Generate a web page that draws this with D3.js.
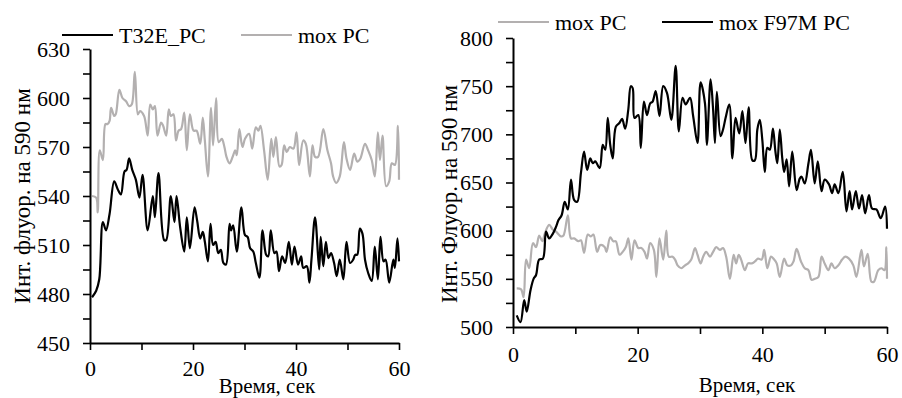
<!DOCTYPE html>
<html>
<head>
<meta charset="utf-8">
<script src="https://cdn.jsdelivr.net/npm/d3@7"></script>
<style>
  body { margin: 0; background: #fff; }
  svg { display: block; }
  svg text { font-family: "Liberation Serif", "Times New Roman", Times, "DejaVu Serif", serif; }
</style>
</head>
<body>
<svg id="chart" width="902" height="398"></svg>
<script>
// ---------- data ----------
// left panel: T32E_PC (black) and mox PC (grey)
let leftBlackTime = [0.4, 1.2, 1.8, 2.5, 3.1, 3.8, 4.7, 5.4, 6.0, 6.7,
  7.1, 7.6, 8.2, 8.9, 9.6, 10.2, 11.2, 12.2, 12.6, 13.3,
  14.4, 14.8, 15.7, 16.4, 16.8, 17.5, 18.3, 18.8, 19.4, 20.3,
  20.8, 21.4, 21.9, 22.3, 22.9, 23.4, 23.9, 24.4, 24.9, 25.4,
  25.9, 26.4, 27.1, 27.4, 27.8, 28.5, 29.4, 30.1, 30.6, 31.1,
  31.7, 32.2, 32.9, 33.5, 34.2, 34.6, 35.1, 35.8, 36.2, 36.7,
  37.3, 37.9, 38.6, 39.2, 39.7, 40.4, 41.0, 41.4, 42.1, 42.6,
  43.0, 43.7, 44.5, 44.8, 45.3, 45.8, 46.3, 46.8, 47.4, 47.9,
  48.5, 49.2, 49.8, 50.5, 51.1, 51.5, 51.9, 52.4, 52.9, 53.4,
  54.0, 54.7, 55.3, 55.9, 56.4, 57.0, 57.4, 58.1, 58.9, 59.2,
  59.7, 60.0];
let leftBlackValue = [478, 482, 489, 524, 519, 529, 549, 544, 541, 555,
  556, 563, 556, 550, 539, 553, 519, 540, 527, 554,
  513, 513, 540, 524, 540, 521, 506, 527, 508, 533,
  525, 514, 518, 512, 500, 523, 510, 512, 505, 507,
  499, 498, 523, 519, 522, 506, 533, 516, 515, 508,
  506, 499, 490, 519, 504, 503, 519, 505, 506, 494,
  503, 499, 512, 498, 509, 498, 503, 496, 497, 487,
  501, 527, 495, 515, 497, 512, 502, 505, 499, 491,
  501, 489, 512, 499, 501, 504, 504, 520, 517, 501,
  493, 488, 509, 489, 515, 500, 501, 487, 501, 496,
  514, 500];

let leftGreyTime = [0.4, 1.2, 1.5, 1.9, 2.5, 3.0, 3.4, 3.8, 4.1, 4.7,
  5.0, 5.7, 6.3, 7.0, 7.6, 8.1, 8.7, 9.3, 9.7, 10.5,
  11.2, 11.7, 12.2, 12.6, 13.1, 13.8, 14.2, 14.8, 15.3, 15.7,
  16.2, 16.7, 17.2, 17.7, 18.3, 18.8, 19.4, 20.1, 20.7, 21.4,
  21.9, 22.3, 22.9, 23.5, 23.9, 24.5, 25.0, 25.6, 26.1, 26.5,
  27.1, 27.7, 28.2, 28.5, 29.0, 29.6, 30.1, 30.9, 31.5, 32.2,
  32.7, 33.1, 33.8, 34.5, 35.2, 35.6, 36.1, 36.8, 37.2, 37.7,
  38.2, 38.8, 39.5, 40.1, 40.6, 41.4, 41.9, 42.7, 43.2, 43.7,
  44.3, 45.3, 46.1, 46.8, 47.2, 47.8, 48.5, 49.3, 49.8, 50.5,
  51.3, 51.9, 52.5, 53.4, 54.0, 54.7, 55.3, 55.9, 56.3, 56.8,
  57.5, 58.1, 58.6, 59.2, 59.8, 60.0];
let leftGreyValue = [540, 539, 530, 568, 562, 584, 584, 586, 594, 589,
  590, 605, 600, 598, 595, 596, 616, 590, 592, 589,
  577, 596, 593, 595, 577, 585, 583, 577, 593, 589,
  590, 574, 580, 581, 591, 568, 590, 580, 580, 572,
  588, 574, 552, 594, 571, 600, 573, 575, 570, 564,
  560, 564, 568, 565, 581, 570, 575, 578, 569, 582,
  580, 583, 568, 550, 575, 564, 576, 558, 559, 571,
  567, 570, 569, 579, 559, 574, 572, 552, 571, 564,
  564, 581, 568, 560, 552, 548, 552, 573, 563, 556,
  566, 561, 563, 572, 568, 562, 552, 579, 562, 577,
  546, 549, 560, 559, 583, 550];

// right panel: mox PC (grey) and mox F97M PC (black)
let rightGreyTime = [0.6, 1.3, 1.7, 2.1, 2.6, 3.2, 3.7, 4.2, 4.7, 5.1,
  5.8, 6.4, 6.9, 7.7, 8.1, 8.8, 9.3, 9.8, 10.5, 10.9,
  11.4, 12.0, 12.5, 12.9, 13.5, 14.0, 14.7, 15.0, 15.6, 16.1,
  16.5, 17.1, 17.6, 18.1, 18.5, 19.0, 19.5, 20.1, 20.6, 21.1,
  21.5, 22.0, 22.6, 23.0, 23.5, 24.1, 24.6, 25.0, 25.6, 26.0,
  26.4, 27.0, 27.6, 28.1, 28.6, 29.2, 29.6, 30.1, 30.5, 31.0,
  31.6, 32.1, 32.6, 33.2, 33.7, 34.2, 34.8, 35.4, 35.8, 36.2,
  36.6, 37.2, 37.7, 38.3, 38.8, 39.3, 39.9, 40.3, 40.8, 41.4,
  41.9, 42.3, 42.8, 43.5, 44.0, 44.6, 45.0, 45.5, 46.2, 46.8,
  47.4, 47.9, 48.4, 49.0, 49.5, 50.0, 50.6, 51.1, 51.6, 52.2,
  52.8, 53.3, 53.9, 54.6, 55.1, 55.9, 56.3, 56.9, 57.5, 57.9,
  58.6, 59.1, 59.6, 59.9, 60.0];
let rightGreyValue = [540, 539, 531, 570, 561, 587, 583, 595, 589, 597,
  606, 601, 599, 594, 595, 616, 592, 592, 589, 590,
  577, 596, 594, 596, 578, 585, 583, 578, 593, 589,
  589, 575, 578, 583, 592, 570, 590, 582, 582, 578,
  571, 587, 580, 552, 592, 570, 600, 573, 573, 570,
  564, 561, 564, 566, 570, 582, 575, 566, 573, 578,
  573, 578, 583, 580, 582, 573, 550, 575, 566, 575,
  570, 559, 566, 566, 568, 571, 570, 580, 561, 573,
  570, 566, 552, 571, 564, 564, 568, 581, 568, 561,
  559, 549, 550, 552, 573, 566, 559, 566, 561, 564,
  570, 573, 571, 564, 552, 580, 563, 576, 547, 547,
  559, 561, 559, 583, 550];

let rightBlackTime = [0.6, 1.2, 1.8, 2.2, 2.8, 3.3, 3.7, 4.2, 4.8, 5.3,
  5.8, 6.4, 6.9, 7.3, 7.8, 8.3, 8.8, 9.3, 9.8, 10.3,
  10.9, 11.4, 11.9, 12.4, 12.8, 13.2, 13.9, 14.4, 14.8, 15.2,
  15.6, 16.0, 16.5, 17.1, 17.5, 18.0, 18.5, 18.9, 19.2, 19.5,
  20.1, 20.5, 21.0, 21.5, 22.0, 22.4, 22.9, 23.5, 24.1, 24.7,
  25.4, 26.1, 26.6, 27.2, 27.7, 28.4, 28.9, 29.6, 30.1, 30.8,
  31.1, 31.7, 32.1, 32.4, 32.7, 33.3, 33.7, 34.1, 34.7, 35.2,
  35.7, 36.3, 36.8, 37.3, 37.8, 38.4, 38.8, 39.2, 39.6, 40.0,
  40.4, 40.8, 41.2, 41.7, 42.1, 42.4, 42.8, 43.2, 43.5, 43.9,
  44.3, 44.8, 45.5, 46.0, 46.3, 46.8, 47.4, 47.8, 48.4, 48.9,
  49.5, 50.0, 50.7, 51.2, 51.6, 52.2, 52.9, 53.5, 54.0, 54.4,
  55.0, 55.5, 56.0, 56.5, 57.1, 57.6, 58.3, 59.0, 59.7, 60.0];
let rightBlackValue = [512, 505, 528, 516, 538, 550, 554, 570, 571, 599,
  592, 597, 604, 611, 616, 630, 622, 653, 632, 630,
  660, 682, 663, 675, 670, 672, 665, 689, 684, 717,
  689, 675, 708, 712, 716, 706, 726, 750, 748, 717,
  720, 686, 734, 720, 732, 734, 745, 719, 750, 743,
  715, 771, 703, 738, 731, 738, 719, 691, 754, 732,
  689, 757, 726, 691, 744, 698, 705, 717, 731, 675,
  717, 701, 724, 691, 728, 673, 673, 705, 715, 694,
  661, 686, 684, 706, 682, 670, 705, 675, 661, 674,
  646, 682, 642, 654, 656, 649, 670, 684, 649, 672,
  641, 653, 648, 639, 648, 639, 661, 620, 641, 622,
  641, 623, 637, 618, 637, 623, 622, 613, 625, 602];

let grey = '#b3b0b0';
let black = '#000000';
let serif = '"Liberation Serif", "Times New Roman", Times, "DejaVu Serif", serif';

let svg = d3.select('#chart');
svg.append('rect').attr('width', 902).attr('height', 398).attr('fill', '#fff');

// builds one panel: scales, axes, lines, legend, titles
function drawPanel(p) {
  let x = d3.scaleLinear().domain([0, 60]).range([p.left, p.right]);
  let y = d3.scaleLinear().domain(p.yDomain).range([p.bottom, p.top]);

  let g = svg.append('g').attr('font-family', serif);

  // y axis
  let yAxis = d3.axisLeft(y)
    .tickValues(d3.range(p.yDomain[0], p.yDomain[1] + 1, p.yStep))
    .tickFormat(d => (d - p.yDomain[0]) % p.yLabelStep === 0 ? d : '')
    .tickSize(7).tickSizeOuter(0).tickPadding(13);
  let ya = g.append('g').attr('transform', 'translate(' + p.left + ',0)').call(yAxis);

  // x axis
  let xAxis = d3.axisBottom(x)
    .tickValues(d3.range(0, 61, 10))
    .tickFormat(d => d % 20 === 0 ? d : '')
    .tickSize(7).tickSizeOuter(0).tickPadding(p.xPad);
  let xa = g.append('g').attr('transform', 'translate(0,' + p.bottom + ')').call(xAxis);

  [ya, xa].forEach(a => {
    a.attr('font-family', serif).attr('font-size', 22);
    a.select('.domain').attr('stroke', '#000').attr('stroke-width', 2);
    a.selectAll('.tick line').attr('stroke', '#000').attr('stroke-width', 1.6);
    a.selectAll('.tick text').attr('fill', '#000');
  });

  // lines
  let line = d3.line()
    .x(d => x(d[0]))
    .y(d => y(d[1]))
    .curve(d3.curveCatmullRom.alpha(0.5));

  p.series.forEach(s => {
    let pts = s.time.map((t, i) => [t, s.value[i]]);
    g.append('path')
      .datum(pts)
      .attr('d', line)
      .attr('fill', 'none')
      .attr('stroke', s.color)
      .attr('stroke-width', 2.2)
      .attr('stroke-linejoin', 'round');
  });

  // legend
  p.series.forEach((s, i) => {
    let lx = p.legendX[i];
    g.append('line')
      .attr('x1', lx).attr('x2', lx + 51)
      .attr('y1', p.legendY).attr('y2', p.legendY)
      .attr('stroke', s.color).attr('stroke-width', 2.2);
    g.append('text')
      .attr('x', lx + 57).attr('y', p.legendY + 8)
      .attr('font-size', 22)
      .text(s.name);
  });

  // axis titles
  g.append('text')
    .attr('x', p.xTitleX).attr('y', p.xTitleY)
    .attr('text-anchor', 'middle')
    .attr('font-size', 21)
    .text('Время, сек');

  g.append('text')
    .attr('transform', 'translate(' + p.yTitleX + ',' + p.yTitleY + ') rotate(-90)')
    .attr('text-anchor', 'middle')
    .attr('font-size', 23)
    .text(p.yTitle);
}

drawPanel({
  left: 90, right: 399, top: 49, bottom: 343,
  yDomain: [450, 630], yStep: 15, yLabelStep: 30, xPad: 10,
  series: [
    {name: 'T32E_PC', time: leftBlackTime, value: leftBlackValue, color: black},
    {name: 'mox PC', time: leftGreyTime, value: leftGreyValue, color: grey}
  ],
  legendX: [62, 241], legendY: 35,
  xTitleX: 267, xTitleY: 393,
  yTitleX: 30, yTitleY: 196, yTitle: 'Инт. флуор. на 590 нм'
});

drawPanel({
  left: 513, right: 887, top: 38, bottom: 327,
  yDomain: [500, 800], yStep: 25, yLabelStep: 50, xPad: 12,
  series: [
    {name: 'mox PC', time: rightGreyTime, value: rightGreyValue, color: grey},
    {name: 'mox F97M PC', time: rightBlackTime, value: rightBlackValue, color: black}
  ],
  legendX: [498, 662], legendY: 22,
  xTitleX: 747, xTitleY: 392,
  yTitleX: 457, yTitleY: 194, yTitle: 'Инт. Флуор. на 590 нм'
});
</script>
</body>
</html>
